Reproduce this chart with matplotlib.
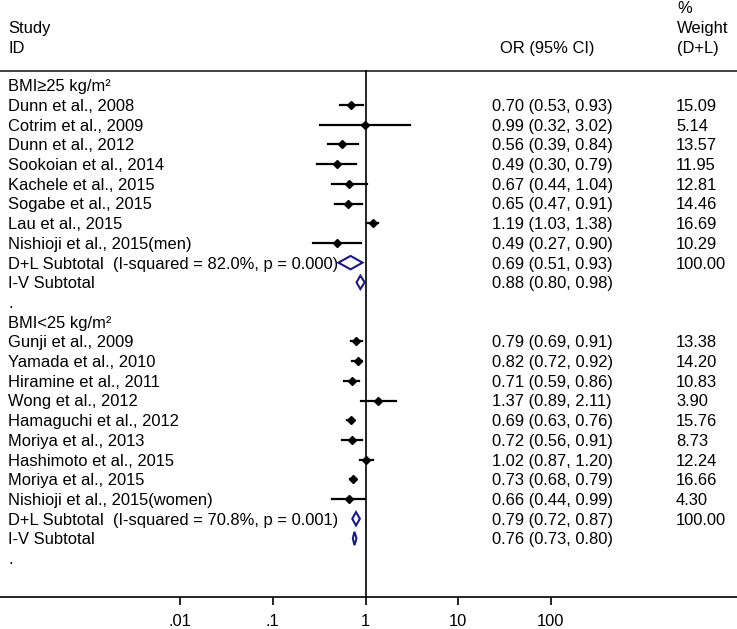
import numpy as np
import matplotlib
matplotlib.use("Agg")
import matplotlib.pyplot as plt
from matplotlib.patches import Polygon
from matplotlib.transforms import blended_transform_factory

plt.rcParams["font.family"] = ["Liberation Sans", "DejaVu Sans"]

# --- data ---
group1_label = "BMI≥25 kg/m²"
group1_studies = ["Dunn et al., 2008", "Cotrim et al., 2009", "Dunn et al., 2012",
                  "Sookoian et al., 2014", "Kachele et al., 2015", "Sogabe et al., 2015",
                  "Lau et al., 2015", "Nishioji et al., 2015(men)"]
group1_or = [0.70, 0.99, 0.56, 0.49, 0.67, 0.65, 1.19, 0.49]
group1_lo = [0.53, 0.32, 0.39, 0.30, 0.44, 0.47, 1.03, 0.27]
group1_hi = [0.93, 3.02, 0.84, 0.79, 1.04, 0.91, 1.38, 0.90]
group1_w = ["15.09", "5.14", "13.57", "11.95", "12.81", "14.46", "16.69", "10.29"]
group1_dl = (0.69, 0.51, 0.93)
group1_dl_text = "D+L Subtotal  (I-squared = 82.0%, p = 0.000)"
group1_iv = (0.88, 0.80, 0.98)

group2_label = "BMI<25 kg/m²"
group2_studies = ["Gunji et al., 2009", "Yamada et al., 2010", "Hiramine et al., 2011",
                  "Wong et al., 2012", "Hamaguchi et al., 2012", "Moriya et al., 2013",
                  "Hashimoto et al., 2015", "Moriya et al., 2015",
                  "Nishioji et al., 2015(women)"]
group2_or = [0.79, 0.82, 0.71, 1.37, 0.69, 0.72, 1.02, 0.73, 0.66]
group2_lo = [0.69, 0.72, 0.59, 0.89, 0.63, 0.56, 0.87, 0.68, 0.44]
group2_hi = [0.91, 0.92, 0.86, 2.11, 0.76, 0.91, 1.20, 0.79, 0.99]
group2_w = ["13.38", "14.20", "10.83", "3.90", "15.76", "8.73", "12.24", "16.66", "4.30"]
group2_dl = (0.79, 0.72, 0.87)
group2_dl_text = "D+L Subtotal  (I-squared = 70.8%, p = 0.001)"
group2_iv = (0.76, 0.73, 0.80)

xticks = [0.01, 0.1, 1, 10, 100]
xtick_labels = [".01", ".1", "1", "10", "100"]

FS = 11.9
NAVY = "#1c1c78"

fig = plt.figure(figsize=(7.37, 6.29), dpi=100)
ax = fig.add_axes([0, 32 / 629, 1, 597 / 629])
ax.set_xscale("log")
ax.set_xlim(10 ** (-365.5 / 92.7), 10 ** ((737 - 365.5) / 92.7))
ax.set_ylim(25.97, -4.33)
for s in ["top", "left", "right"]:
    ax.spines[s].set_visible(False)
ax.spines["bottom"].set_linewidth(1.2)
ax.set_yticks([])
ax.set_xticks(xticks)
ax.set_xticklabels(xtick_labels)
ax.minorticks_off()
ax.tick_params(axis="x", direction="out", length=6, width=1.2, pad=6, labelsize=FS)

tr = blended_transform_factory(ax.transAxes, ax.transData)
X_LEFT = 8 / 737
X_OR = 492 / 737
X_W = 676 / 737
OFF = 0.3


def put(x, row, s, **kw):
    ax.text(x, row + OFF, s, transform=tr, va="baseline", ha="left", fontsize=FS, **kw)


def diamond(row, est, lo, hi, h=0.34):
    pts = [(lo, row), (est, row - h), (hi, row), (est, row + h)]
    ax.add_patch(Polygon(pts, closed=True, facecolor="white", edgecolor=NAVY,
                         linewidth=1.5, zorder=4))


# headers
put(X_LEFT, -2.96, "Study")
put(X_LEFT, -1.94, "ID")
put(500 / 737, -1.94, "OR (95% CI)")
put(677 / 737, -3.96, "%")
put(677 / 737, -2.96, "Weight")
put(677 / 737, -1.94, "(D+L)")
ax.axhline(-0.75, color="#333333", linewidth=1.3)
ax.plot([1, 1], [-0.75, 25.97], color="black", linewidth=1.2, zorder=3)


def draw_group(start, label, studies, est, lo, hi, w, dl, dl_text, iv):
    put(X_LEFT, start, label)
    for i, name in enumerate(studies):
        r = start + 1 + i
        put(X_LEFT, r, name)
        ax.plot([lo[i], hi[i]], [r, r], color="black", linewidth=1.6, zorder=5)
        ax.plot(est[i], r, marker="D", color="black", markersize=3.6, zorder=6)
        put(X_OR, r, f"{est[i]:.2f} ({lo[i]:.2f}, {hi[i]:.2f})")
        put(X_W, r, w[i])
    r = start + 1 + len(studies)
    put(X_LEFT, r, dl_text)
    diamond(r, *dl)
    put(X_OR, r, f"{dl[0]:.2f} ({dl[1]:.2f}, {dl[2]:.2f})")
    put(X_W, r, "100.00")
    r += 1
    put(X_LEFT, r, "I-V Subtotal")
    diamond(r, *iv)
    put(X_OR, r, f"{iv[0]:.2f} ({iv[1]:.2f}, {iv[2]:.2f})")
    put(X_LEFT, r + 1, ".")
    return r + 2


nxt = draw_group(0, group1_label, group1_studies, group1_or, group1_lo, group1_hi,
                 group1_w, group1_dl, group1_dl_text, group1_iv)
draw_group(nxt, group2_label, group2_studies, group2_or, group2_lo, group2_hi,
           group2_w, group2_dl, group2_dl_text, group2_iv)

fig.savefig("out.png", dpi=100)
